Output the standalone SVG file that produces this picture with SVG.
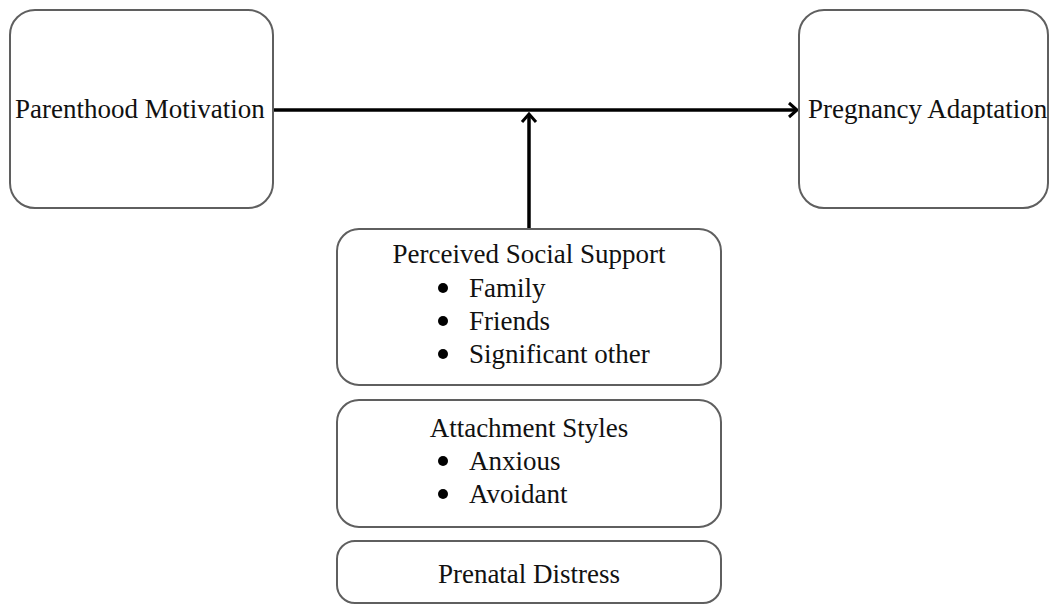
<svg xmlns="http://www.w3.org/2000/svg" width="1050" height="605" viewBox="0 0 1050 605">
<style>
.box{fill:#fff;stroke:#5f5f5f;stroke-width:2}
.t{font-family:"Liberation Serif","Times New Roman",serif;font-size:27px;fill:#111}
.c{text-anchor:middle}
.con{stroke:#000;stroke-width:3.5;fill:none}
.b{fill:#000}
</style>
<defs>
<marker id="arr" markerUnits="userSpaceOnUse" markerWidth="20" markerHeight="20" refX="16" refY="10" orient="auto">
<path d="M8,3 L16,10 L8,17" fill="none" stroke="#000" stroke-width="3"/>
</marker>
</defs>
<rect width="1050" height="605" fill="#fff"/>
<g id="connectors">
<line class="con" x1="273" y1="110" x2="797" y2="110" marker-end="url(#arr)"/>
<line class="con" x1="529" y1="229" x2="529" y2="114" marker-end="url(#arr)"/>
</g>
<g id="parenthood">
<rect class="box" x="10" y="10" width="263" height="198" rx="25"/>
<text class="t" x="15" y="118">Parenthood Motivation</text>
</g>
<g id="pregnancy">
<rect class="box" x="799" y="10" width="249" height="198" rx="25"/>
<text class="t" x="808" y="118">Pregnancy Adaptation</text>
</g>
<g id="social">
<rect class="box" x="337" y="229" width="384" height="156" rx="22"/>
<text class="t c" x="529" y="263">Perceived Social Support</text>
<circle class="b" cx="443" cy="288" r="5"/>
<circle class="b" cx="443" cy="321" r="5"/>
<circle class="b" cx="443" cy="354" r="5"/>
<text class="t" x="469" y="297">Family</text>
<text class="t" x="469" y="330">Friends</text>
<text class="t" x="469" y="363">Significant other</text>
</g>
<g id="attachment">
<rect class="box" x="337" y="400" width="384" height="127" rx="22"/>
<text class="t c" x="529" y="437">Attachment Styles</text>
<circle class="b" cx="443" cy="461" r="5"/>
<circle class="b" cx="443" cy="494" r="5"/>
<text class="t" x="469" y="470">Anxious</text>
<text class="t" x="469" y="503">Avoidant</text>
</g>
<g id="distress">
<rect class="box" x="337" y="541" width="384" height="62" rx="18"/>
<text class="t c" x="529" y="583">Prenatal Distress</text>
</g>
</svg>
